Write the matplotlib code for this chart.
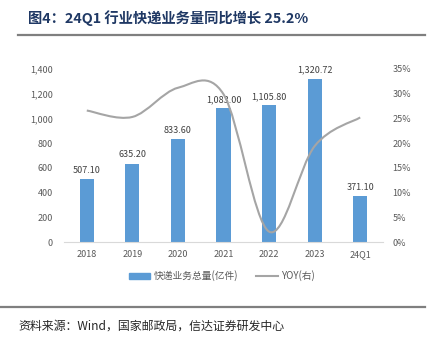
import numpy as np
import matplotlib.pyplot as plt
from matplotlib.path import Path
from matplotlib.patches import PathPatch
from matplotlib.lines import Line2D
from matplotlib.patches import Patch

plt.rcParams['font.family'] = ['Noto Sans CJK SC', 'DejaVu Sans']

categories = ['2018', '2019', '2020', '2021', '2022', '2023', '24Q1']
volume = [507.10, 635.20, 833.60, 1083.00, 1105.80, 1320.72, 371.10]
yoy = [26.6, 25.3, 31.2, 29.9, 2.1, 19.4, 25.2]
labels = ['507.10', '635.20', '833.60', '1,083.00', '1,105.80', '1,320.72', '371.10']

bar_color = '#5B9BD5'
line_color = '#A5A5A5'
text_color = '#595959'

fig = plt.figure(figsize=(4.34, 3.4), dpi=100)
ax = fig.add_axes([64 / 434, 1 - 242 / 340, 319 / 434, 173 / 340])
x = np.arange(len(categories))

ax.bar(x, volume, width=0.31, color=bar_color, zorder=2)
for xi, v, lab in zip(x, volume, labels):
    ax.annotate(lab, (xi, v), xytext=(0, 3), textcoords='offset points',
                ha='center', va='bottom', fontsize=6.5, color='#404040')

ax.set_xlim(-0.5, len(categories) - 0.5)
ax.set_ylim(0, 1400)
ax.set_yticks(range(0, 1401, 200))
ax.set_yticklabels([f'{v:,}' for v in range(0, 1401, 200)])
ax.set_xticks(x)
ax.set_xticklabels(categories)
ax.tick_params(axis='both', length=0, labelsize=6.5, colors=text_color)
ax.tick_params(axis='y', pad=8)
ax.tick_params(axis='x', pad=6)
for s in ['top', 'left', 'right']:
    ax.spines[s].set_visible(False)
ax.spines['bottom'].set_color('#D9D9D9')

ax2 = ax.twinx()
ax2.set_ylim(0, 35)
ax2.set_yticks(range(0, 36, 5))
ax2.set_yticklabels([f'{v}%' for v in range(0, 36, 5)])
ax2.tick_params(axis='y', length=0, labelsize=6.5, colors=text_color, pad=7)
for s in ax2.spines.values():
    s.set_visible(False)

# smoothed line (Excel-style bezier through the points)
pts = np.column_stack([x, yoy]).astype(float)
verts = [pts[0]]
codes = [Path.MOVETO]
n = len(pts)
for i in range(n - 1):
    p0 = pts[i - 1] if i > 0 else pts[i]
    p1 = pts[i]
    p2 = pts[i + 1]
    p3 = pts[i + 2] if i + 2 < n else pts[i + 1]
    c1 = p1 + (p2 - p0) / 6
    c2 = p2 - (p3 - p1) / 6
    verts += [c1, c2, p2]
    codes += [Path.CURVE4] * 3
ax2.add_patch(PathPatch(Path(verts, codes), facecolor='none',
                        edgecolor=line_color, lw=1.5, zorder=3))

handles = [Patch(color=bar_color), Line2D([], [], color=line_color, lw=1.5)]
fig.legend(handles, ['快递业务总量(亿件)', 'YOY(右)'], loc='center',
           bbox_to_anchor=(222 / 434, 1 - 276 / 340), ncol=2, frameon=False,
           fontsize=7, handlelength=2.2, handleheight=0.5, handletextpad=0.4,
           columnspacing=1.8, labelcolor=text_color)

fig.text(28 / 434, 1 - 18 / 340, '图4：24Q1 行业快递业务量同比增长 25.2%',
         fontsize=10.3, fontweight='bold', color='#1F3864', va='center')
fig.add_artist(Line2D([18 / 434, 425 / 434], [1 - 35 / 340] * 2, color='#7F7F7F', lw=1.6))
fig.add_artist(Line2D([0, 425 / 434], [1 - 307 / 340] * 2, color='#7F7F7F', lw=1.6))
fig.text(18 / 434, 1 - 326 / 340, '资料来源：Wind，国家邮政局，信达证券研发中心',
         fontsize=8.6, color='#262626', va='center', style='italic')

fig.savefig('out.png', dpi=100)
